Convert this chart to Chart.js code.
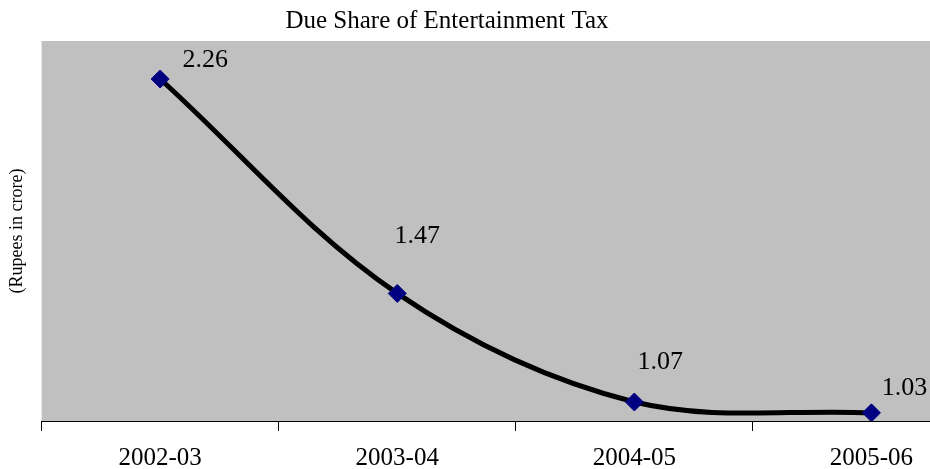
<!DOCTYPE html>
<html>
<head>
<meta charset="utf-8">
<script src="https://cdn.jsdelivr.net/npm/chart.js@4.4.0/dist/chart.umd.min.js"></script>
<style>
  html, body { margin: 0; padding: 0; background: #fff; overflow: hidden; }
  #wrap { width: 930px; height: 469px; overflow: hidden; }
</style>
</head>
<body>
<div id="wrap"><canvas id="chart" width="1000" height="485"></canvas></div>
<script>
// Due Share of Entertainment Tax
const years = ['2002-03', '2003-04', '2004-05', '2005-06'];
const dueShare = [2.26, 1.47, 1.07, 1.03];
const chartTitle = 'Due Share of Entertainment Tax';
const yTitle = '(Rupees in crore)';

// label offsets from each point (dx, dy), like the original callouts
const labelShift = [[45, -19], [20, -57], [26, -40], [33, -25]];

const plotBg = {
  id: 'plotBg',
  beforeDraw(chart) {
    const a = chart.chartArea;
    const ctx = chart.ctx;
    ctx.save();
    ctx.fillStyle = '#c0c0c0';
    ctx.fillRect(a.left, a.top, a.right - a.left, a.bottom - a.top);
    ctx.restore();
  }
};

const texts = {
  id: 'texts',
  afterDraw(chart) {
    const ctx = chart.ctx;
    ctx.save();
    ctx.fillStyle = '#000';
    ctx.textAlign = 'center';
    ctx.textBaseline = 'middle';
    ctx.font = '25px "Liberation Serif", "Times New Roman", serif';
    ctx.fillText(chartTitle, 447, 21);
    ctx.font = '26px "Liberation Serif", "Times New Roman", serif';
    const pts = chart.getDatasetMeta(0).data;
    pts.forEach(function(p, i) {
      ctx.fillText(dueShare[i].toFixed(2), p.x + labelShift[i][0], p.y + labelShift[i][1]);
    });
    ctx.restore();
  }
};

new Chart(document.getElementById('chart').getContext('2d'), {
  type: 'line',
  data: {
    labels: years,
    datasets: [{
      data: dueShare,
      borderColor: '#000',
      borderWidth: 5,
      tension: 0.35,
      fill: false,
      pointStyle: 'rectRot',
      pointRadius: 9,
      pointHoverRadius: 9,
      pointBackgroundColor: '#000080',
      pointBorderColor: '#000080',
      pointBorderWidth: 1
    }]
  },
  options: {
    responsive: false,
    animation: false,
    layout: { padding: { top: 41, left: 0, right: 1, bottom: 0 } },
    plugins: {
      legend: { display: false },
      tooltip: { enabled: false },
      title: { display: false }
    },
    scales: {
      x: {
        offset: true,
        grid: { offset: true, drawOnChartArea: false, color: '#000', tickLength: 10, tickWidth: 1 },
        border: { color: '#000', width: 1 },
        ticks: {
          color: '#000',
          padding: 12,
          maxRotation: 0,
          font: { family: '"Liberation Serif", "Times New Roman", serif', size: 25 }
        }
      },
      y: {
        min: 1,
        max: 2.4,
        grid: { display: false },
        border: { display: false },
        ticks: { display: false },
        title: {
          display: true,
          text: yTitle,
          color: '#000',
          padding: { top: 6, bottom: 6 },
          font: { family: '"Liberation Serif", "Times New Roman", serif', size: 18 }
        }
      }
    }
  },
  plugins: [plotBg, texts]
});
</script>
</body>
</html>
